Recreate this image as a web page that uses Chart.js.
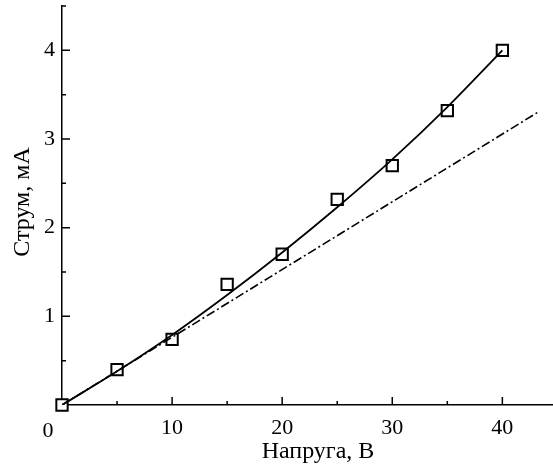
<!DOCTYPE html>
<html>
<head>
<meta charset="utf-8">
<script src="https://cdn.jsdelivr.net/npm/chart.js@4"></script>
<style>
html, body { margin: 0; padding: 0; background: #fff; }
#wrap { width: 553px; height: 467px; }
</style>
</head>
<body>
<div id="wrap"><canvas id="myChart"></canvas></div>
<script>
// measured points (squares)
var voltage = [0, 5, 10, 15, 20, 25, 30, 35, 40];
var current = [0, 0.40, 0.74, 1.36, 1.70, 2.32, 2.70, 3.32, 4.00];
// solid curve
var fitX = [0, 5, 10, 15, 20, 25, 30, 35, 40];
var fitY = [0, 0.38, 0.79, 1.24, 1.72, 2.23, 2.77, 3.36, 4.00];
// dash-dot straight line
var lineX = [0, 43.2];
var lineY = [0, 3.30];
// labelled ticks
var xTickLabels = [10, 20, 30, 40];
var yTickLabels = [1, 2, 3, 4];
var xTitle = 'Напруга, В';
var yTitle = 'Струм, мА';

function pairs(xs, ys) {
    return xs.map(function (x, i) { return { x: x, y: ys[i] }; });
}

var serif = 'Liberation Serif';

// inward tick marks, axis titles and the shared "0" at the corner
var innerTicks = {
    id: 'innerTicks',
    afterDraw: function (chart) {
        var ctx = chart.ctx;
        var area = chart.chartArea;
        var xs = chart.scales.x, ys = chart.scales.y;
        ctx.save();
        ctx.strokeStyle = '#000';
        ctx.lineWidth = 1.5;
        ctx.beginPath();
        xs.ticks.forEach(function (t) {
            if (t.value === 0) return;
            var px = xs.getPixelForValue(t.value);
            var len = xTickLabels.indexOf(t.value) >= 0 ? 8 : 4;
            ctx.moveTo(px, area.bottom);
            ctx.lineTo(px, area.bottom - len);
        });
        ys.ticks.forEach(function (t) {
            if (t.value === 0) return;
            var py = ys.getPixelForValue(t.value);
            var len = yTickLabels.indexOf(t.value) >= 0 ? 8 : 4;
            ctx.moveTo(area.left, py);
            ctx.lineTo(area.left + len, py);
        });
        ctx.stroke();

        ctx.fillStyle = '#000';
        ctx.font = '22px "' + serif + '"';
        ctx.textAlign = 'center';
        ctx.textBaseline = 'middle';
        ctx.fillText('0', area.left - 14, area.bottom + 26);

        ctx.font = '24px "' + serif + '"';
        ctx.textBaseline = 'alphabetic';
        ctx.fillText(xTitle, area.left + 256, area.bottom + 53);
        ctx.translate(area.left - 33, area.top + 196);
        ctx.rotate(-Math.PI / 2);
        ctx.fillText(yTitle, 0, 0);
        ctx.restore();
    }
};

var ctx = document.getElementById('myChart').getContext('2d');
var chart = new Chart(ctx, {
    type: 'scatter',
    data: {
        datasets: [{
            data: pairs(lineX, lineY),
            showLine: true,
            borderColor: '#000',
            borderWidth: 1.6,
            borderDash: [9, 3, 2, 3],
            pointRadius: 0
        }, {
            data: pairs(fitX, fitY),
            showLine: true,
            borderColor: '#000',
            borderWidth: 1.8,
            tension: 0.4,
            cubicInterpolationMode: 'monotone',
            pointRadius: 0
        }, {
            data: pairs(voltage, current),
            showLine: false,
            pointStyle: 'rect',
            pointRadius: 8,
            borderWidth: 2,
            borderColor: '#000',
            backgroundColor: '#fff',
            clip: false
        }]
    },
    options: {
        responsive: true,
        maintainAspectRatio: false,
        animation: false,
        layout: { autoPadding: false, padding: { top: 6, right: 0, left: 0, bottom: 0 } },
        plugins: {
            legend: { display: false },
            tooltip: { enabled: false }
        },
        scales: {
            x: {
                type: 'linear',
                min: 0,
                max: 44.6,
                grid: { display: false, drawTicks: false },
                border: { display: true, color: '#000', width: 1.5 },
                ticks: {
                    stepSize: 5,
                    includeBounds: false,
                    autoSkip: false,
                    maxRotation: 0,
                    padding: 10,
                    color: '#000',
                    font: { family: serif, size: 22 },
                    callback: function (v) { return xTickLabels.indexOf(v) >= 0 ? String(v) : ''; }
                },
                afterFit: function (scale) {
                    scale.height = 62;
                    scale.paddingLeft = 0;
                    scale.paddingRight = 0;
                }
            },
            y: {
                min: 0,
                max: 4.5,
                grid: { display: false, drawTicks: false },
                border: { display: true, color: '#000', width: 1.5 },
                ticks: {
                    stepSize: 0.5,
                    includeBounds: false,
                    autoSkip: false,
                    padding: 7,
                    color: '#000',
                    font: { family: serif, size: 22 },
                    callback: function (v) { return yTickLabels.indexOf(v) >= 0 ? String(v) : ''; }
                },
                afterFit: function (scale) {
                    scale.width = 62;
                    scale.paddingTop = 0;
                    scale.paddingBottom = 0;
                }
            }
        }
    },
    plugins: [innerTicks]
});
</script>
</body>
</html>
